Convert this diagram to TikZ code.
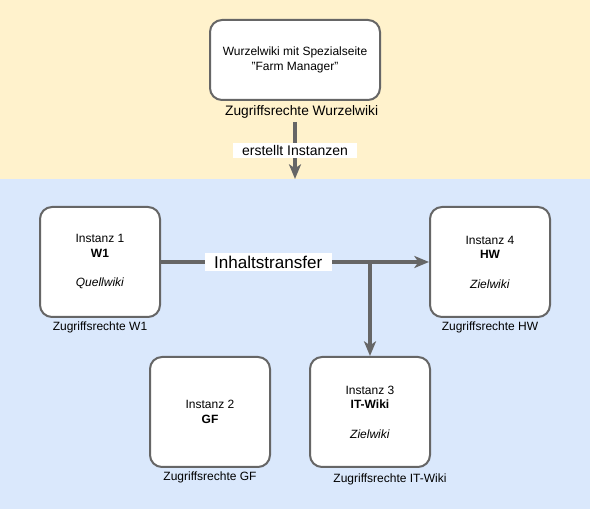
\documentclass[tikz,border=0pt]{standalone}
\usepackage{fontspec}
\setmainfont{Liberation Sans}
\usepackage{xcolor}
\usepackage{tikz}
\usetikzlibrary{arrows.meta,positioning}

\definecolor{bandgelb}{HTML}{FFF2CC}
\definecolor{bandblau}{HTML}{DAE8FC}
\definecolor{rand}{HTML}{666666}

\begin{document}
\begin{tikzpicture}[x=0.75pt, y=-0.75pt,
  inst/.style={draw=rand, line width=1.5pt, fill=white, rounded corners=9pt, align=center,
    font=\fontsize{9}{11}\selectfont, minimum width=90pt, minimum height=82.5pt, inner sep=2pt},
  recht/.style={font=\fontsize{9}{11}\selectfont, inner sep=1pt},
  arr/.style={-{Stealth[length=11pt, width=9pt, inset=3pt]}, draw=rand, line width=2.6pt},
  marke/.style={fill=white, inner xsep=7pt, inner ysep=2pt}
]
% Hintergrund
\fill[bandgelb] (0,0) rectangle (590,179);
\fill[bandblau] (0,179) rectangle (590,509);
\useasboundingbox (0,0) rectangle (590,509);

% Wurzelwiki
\node[inst, minimum width=127.5pt, minimum height=60pt] (wurzel) at (295,60)
  {Wurzelwiki mit Spezialseite\\"Farm Manager"};
\node[recht, below=2pt of wurzel, xshift=5pt, font=\fontsize{10.3}{12}\selectfont] (rwurzel) {Zugriffsrechte Wurzelwiki};

% Instanzen
\node[inst] (w1) at (100,262) {Instanz 1\\\textbf{W1}\\[11pt]\textit{Quellwiki}};
\node[inst] (hw) at (490,262) {Instanz 4\\\textbf{HW}\\[11pt]\textit{Zielwiki}};
\node[inst] (gf) at (210,412) {Instanz 2\\\textbf{GF}};
\node[inst] (it) at (370,412) {Instanz 3\\\textbf{IT-Wiki}\\[11pt]\textit{Zielwiki}};

\node[recht, below=2pt of w1] (rw1) {Zugriffsrechte W1};
\node[recht, below=2pt of hw] (rhw) {Zugriffsrechte HW};
\node[recht, below=2pt of gf] (rgf) {Zugriffsrechte GF};
\node[recht, below=3pt of it, xshift=15pt] (rit) {Zugriffsrechte IT-Wiki};

% Verbindungen
\coordinate (ab) at (295,122);
\coordinate (an) at (295,179);
\draw[arr] (ab) -- node[marke, font=\fontsize{10.5}{12}\selectfont]{erstellt Instanzen} (an);
\draw[arr] (w1) -- node[marke, pos=0.4, font=\fontsize{12.8}{15}\selectfont]{Inhaltstransfer} (hw);
\coordinate (abzweig) at (it.north |- w1.east);
\draw[arr] (abzweig) -- (it);
\end{tikzpicture}
\end{document}
